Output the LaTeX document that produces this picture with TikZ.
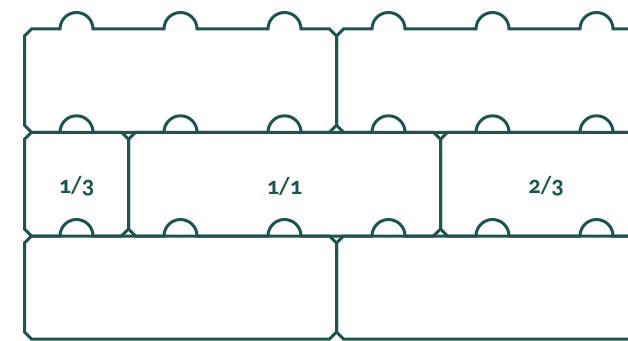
\documentclass[tikz,border=0pt]{standalone}
\usepackage{fontspec}
\setmainfont{Carlito}[Numbers=OldStyle]
\definecolor{brickcol}{RGB}{31,83,80}
\tikzset{
  brickline/.style={draw=brickcol,line width=3pt,line join=miter},
  bricklabel/.style={text=brickcol,font=\fontsize{24.5}{26}\selectfont\bfseries,inner sep=0pt}
}
% #1 left x, #2 units, #3 top y, #4 bottom y
\newcommand\brickshape[4]{%
  \pgfmathsetmacro\brickR{#1+104*#2}%
  \draw[brickline] (#1,#3-7) -- (#1+7,#3)
    \foreach \k in {1,...,#2} { -- ({#1+104*\k-52-16.5},#3) arc[start angle=180,end angle=0,radius=16.5pt] }
    -- (\brickR-7,#3) -- (\brickR,#3-7) -- (\brickR,#4+7) -- (\brickR-7,#4) -- (#1+7,#4) -- (#1,#4+7) -- cycle;
}
\begin{document}
\begin{tikzpicture}[x=1pt,y=1pt]
\useasboundingbox (0,0) rectangle (628,340);
\clip (0,0) rectangle (628,340);
% row 1
\brickshape{24.5}{3}{311}{207.7}
\brickshape{336.5}{3}{311}{207.7}
% row 2
\brickshape{24.5}{1}{207.7}{104}
\brickshape{128.5}{3}{207.7}{104}
\brickshape{440.5}{2}{207.7}{104}
% row 3
\brickshape{24.5}{3}{104}{1}
\brickshape{336.5}{3}{104}{1}
% labels
\node[bricklabel] (lthird) at (76.5,154) {1/3};
\node[bricklabel] (lone) at (284.5,154) {1/1};
\node[bricklabel] (ltwothird) at (546,154) {2/3};
\end{tikzpicture}
\end{document}
